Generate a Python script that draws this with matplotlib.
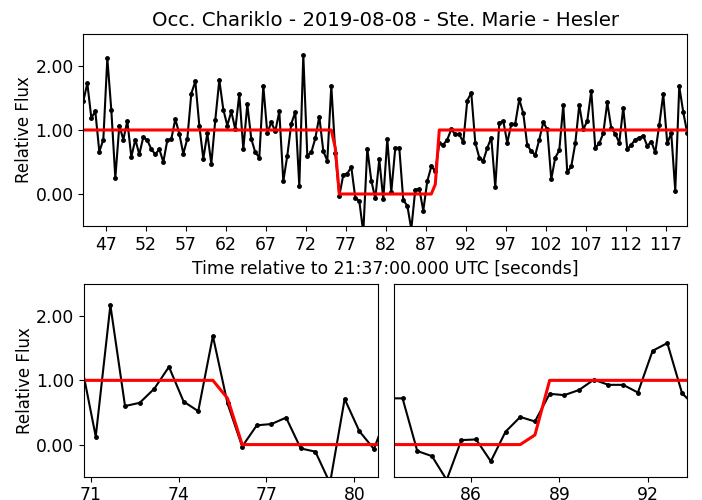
import matplotlib
matplotlib.use("Agg")
import matplotlib.pyplot as plt
import numpy as np

# Light curve of the Chariklo occultation, sampled every 0.5 s
t_start = 44.17
t_step = 0.5
flux = [
    1.45, 1.73, 1.19, 1.29, 0.66, 0.85, 2.12, 1.31, 0.25, 1.07,
    0.85, 1.14, 0.58, 0.85, 0.62, 0.89, 0.84, 0.70, 0.62, 0.70,
    0.50, 0.84, 0.86, 1.17, 0.94, 0.63, 0.86, 1.57, 1.76, 1.07,
    0.55, 0.95, 0.47, 1.16, 1.78, 1.32, 1.07, 1.29, 1.01, 1.56,
    0.70, 1.40, 0.86, 0.65, 0.57, 1.69, 0.95, 1.12, 0.98, 1.29,
    0.20, 0.60, 1.10, 1.28, 0.125, 2.17, 0.60, 0.65, 0.87, 1.21,
    0.67, 0.52, 1.69, 0.64, -0.03, 0.30, 0.32, 0.42, -0.06, -0.11,
    -0.60, 0.71, 0.21, -0.07, 0.54, -0.08, 0.86, 0.03, 0.72, 0.72,
    -0.10, -0.18, -0.55, 0.07, 0.08, -0.26, 0.20, 0.43, 0.36, 0.79,
    0.77, 0.85, 1.01, 0.93, 0.93, 0.81, 1.46, 1.58, 0.80, 0.57,
    0.52, 0.72, 0.88, 0.11, 1.11, 1.14, 0.80, 1.09, 1.10, 1.48,
    1.26, 0.76, 0.67, 0.61, 0.85, 1.12, 1.01, 0.23, 0.57, 0.68,
    1.39, 0.34, 0.43, 0.79, 1.39, 1.01, 1.14, 1.61, 0.72, 0.79,
    0.95, 1.43, 1.03, 0.94, 0.80, 1.35, 0.70, 0.77, 0.85, 0.88,
    0.91, 0.75, 0.82, 0.65, 1.08, 1.56, 0.79, 0.95, 0.05, 1.68,
    1.28, 0.95,
]
times = t_start + t_step * np.arange(len(flux))

# square-well model (sampled at the same times), values across ingress/egress
model = np.ones(len(flux))
model[64:88] = 0.0
model[63] = 0.72
model[88] = 0.15

title = "Occ. Chariklo - 2019-08-08 - Ste. Marie - Hesler"
xlabel = "Time relative to 21:37:00.000 UTC [seconds]"
ylabel = "Relative Flux"
yticks = [0.0, 1.0, 2.0]
top_xticks = np.arange(47, 120, 5)
ingress_win = (70.77, 80.8)
ingress_xticks = [71, 74, 77, 80]
egress_win = (83.38, 93.35)
egress_xticks = [86, 89, 92]

plt.rcParams["font.size"] = 12.4

fig = plt.figure(figsize=(7.02, 5.0), dpi=100)
ax_top = fig.add_axes([0.1187, 0.548, 0.8603, 0.384])
ax_in = fig.add_axes([0.1197, 0.0466, 0.4184, 0.3854])
ax_eg = fig.add_axes([0.5613, 0.0466, 0.4178, 0.3854])


def draw(ax):
    ax.plot(times, flux, "k.-", lw=1.5, ms=5)
    ax.plot(times, model, "r-", lw=2.2)
    ax.set_ylim(-0.5, 2.5)
    ax.set_yticks(yticks)
    ax.set_yticklabels([f"{v:.2f}" for v in yticks])


draw(ax_top)
ax_top.set_xlim(times[0], times[-1])
ax_top.set_xticks(top_xticks)
ax_top.set_title(title, fontsize=14.2)
ax_top.set_xlabel(xlabel)
ax_top.set_ylabel(ylabel, fontsize=12, labelpad=1.5)

draw(ax_in)
ax_in.set_xlim(*ingress_win)
ax_in.set_xticks(ingress_xticks)
ax_in.set_ylabel(ylabel, fontsize=12, labelpad=1.5)

draw(ax_eg)
ax_eg.set_xlim(*egress_win)
ax_eg.set_xticks(egress_xticks)
ax_eg.tick_params(left=False, labelleft=False)

fig.savefig("out.png", dpi=100)
